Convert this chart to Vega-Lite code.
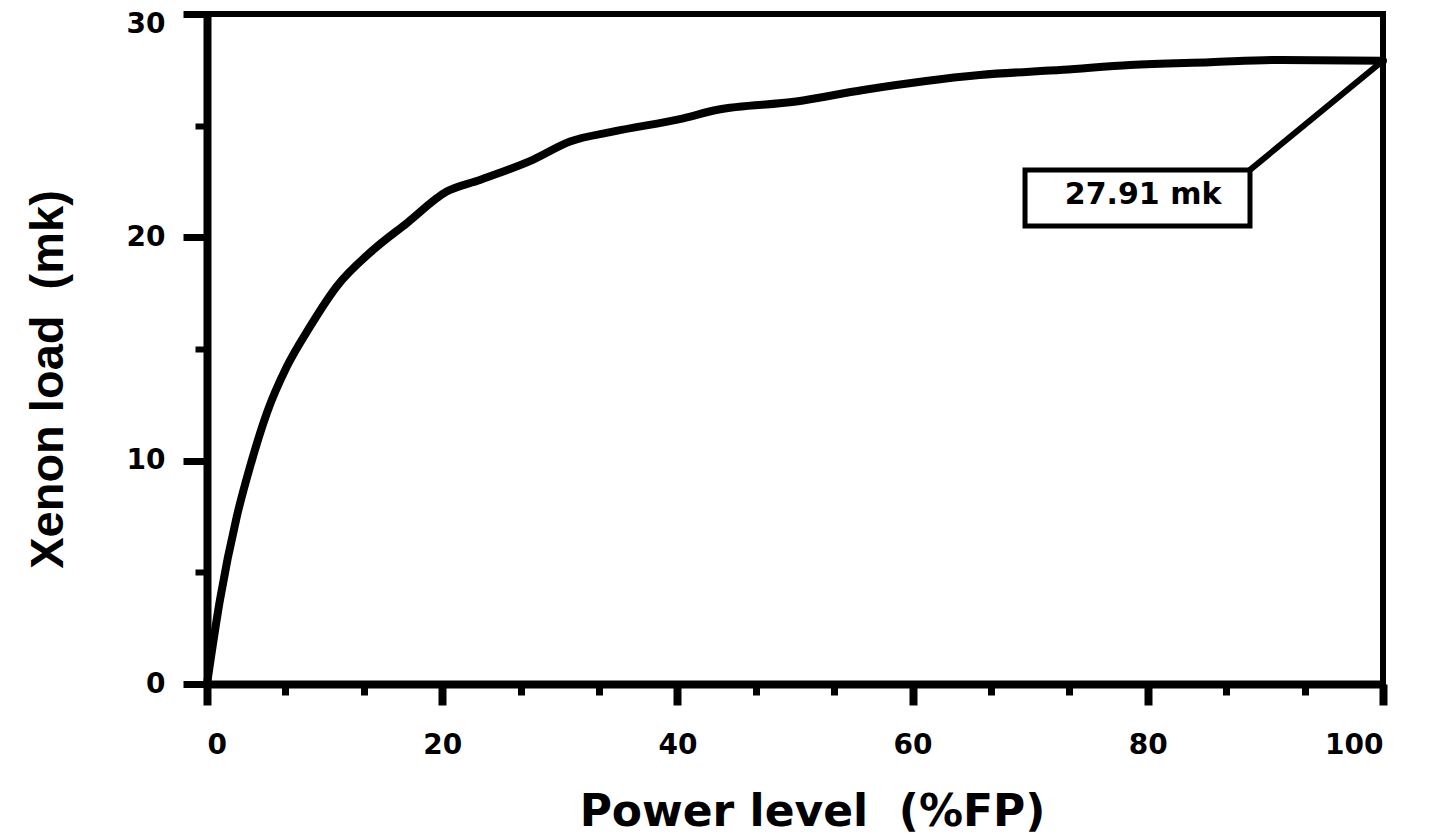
{
  "$schema": "https://vega.github.io/schema/vega-lite/v6.json",
  "autosize": {"type": "none"},
  "padding": {"left": 207, "top": 14, "right": 52, "bottom": 154},
  "width": 1176,
  "height": 670,
  "background": "white",
  "config": {
    "view": {"stroke": "black", "strokeWidth": 6},
    "axis": {
      "grid": false,
      "domainColor": "black",
      "domainWidth": 8,
      "tickColor": "black",
      "labelColor": "black",
      "labelFont": "DejaVu Sans",
      "labelFontWeight": "bold",
      "labelFontSize": 28,
      "labelOverlap": false,
      "titleColor": "black"
    }
  },
  "datasets": {
    "curve": [
      {"power": 0, "xenon": 0},
      {"power": 1.1, "xenon": 3.76},
      {"power": 2.53, "xenon": 7.49},
      {"power": 3.66, "xenon": 9.73},
      {"power": 5.08, "xenon": 12.12},
      {"power": 6.78, "xenon": 14.2},
      {"power": 8.76, "xenon": 16.0},
      {"power": 11.03, "xenon": 17.8},
      {"power": 14.14, "xenon": 19.44},
      {"power": 16.98, "xenon": 20.63},
      {"power": 20.38, "xenon": 22.05},
      {"power": 23.2, "xenon": 22.57},
      {"power": 27.7, "xenon": 23.47},
      {"power": 30.87, "xenon": 24.29},
      {"power": 34.5, "xenon": 24.73},
      {"power": 40.5, "xenon": 25.33},
      {"power": 43.3, "xenon": 25.7},
      {"power": 50.1, "xenon": 26.08},
      {"power": 55.8, "xenon": 26.6},
      {"power": 65.7, "xenon": 27.27},
      {"power": 72.8, "xenon": 27.5},
      {"power": 78.5, "xenon": 27.72},
      {"power": 85.3, "xenon": 27.84},
      {"power": 91.2, "xenon": 27.94},
      {"power": 100, "xenon": 27.91}
    ],
    "label": [
      {"x1": 69.56, "x2": 88.69, "y1": 20.51, "y2": 23.02, "tx": 79.6, "ty": 21.5, "text": "27.91 mk", "lx": 88.69, "ly": 23.02, "px": 100, "py": 27.91}
    ]
  },
  "layer": [
    {
      "data": {"name": "curve"},
      "mark": {"type": "line", "color": "black", "strokeWidth": 8, "interpolate": "monotone", "strokeCap": "round", "strokeJoin": "round"},
      "encoding": {
        "x": {
          "field": "power", "type": "quantitative",
          "scale": {"domain": [0, 100], "nice": false, "zero": false},
          "axis": {
            "values": [0, 6.6667, 13.3333, 20, 26.6667, 33.3333, 40, 46.6667, 53.3333, 60, 66.6667, 73.3333, 80, 86.6667, 93.3333, 100],
            "tickSize": {"condition": {"test": "abs(datum.value/20 - round(datum.value/20)) < 0.001", "value": 21}, "value": 11},
            "tickWidth": {"condition": {"test": "abs(datum.value/20 - round(datum.value/20)) < 0.001", "value": 8}, "value": 7},
            "labelExpr": "abs(datum.value/20 - round(datum.value/20)) < 0.001 ? format(datum.value, 'd') : ''",
            "labelPadding": 26,
            "title": "Power level\u00a0\u00a0(%FP)",
            "titleFont": "DejaVu Sans",
            "titleFontWeight": "bold",
            "titleFontSize": 44,
            "titleX": 605,
            "titleY": 141,
            "titleAlign": "center",
            "titleBaseline": "alphabetic"
          }
        },
        "y": {
          "field": "xenon", "type": "quantitative",
          "scale": {"domain": [0, 30], "nice": false, "zero": false},
          "axis": {
            "values": [0, 5, 10, 15, 20, 25, 30],
            "tickSize": {"condition": {"test": "datum.value % 10 === 0", "value": 24}, "value": 12},
            "tickWidth": {"condition": {"test": "datum.value % 10 === 0", "value": 7}, "value": 6},
            "labelExpr": "datum.value % 10 === 0 ? format(datum.value, 'd') : ''",
            "labelOffset": {"condition": {"test": "datum.value === 30", "value": 10}, "value": 0},
            "labelPadding": 18,
            "title": "Xenon load\u00a0\u00a0(mk)",
            "titleFont": "Liberation Sans",
            "titleFontWeight": "bold",
            "titleFontSize": 47,
            "titleAngle": 270,
            "titleX": -145,
            "titleY": 365,
            "titleAlign": "center",
            "titleBaseline": "alphabetic"
          }
        }
      }
    },
    {
      "data": {"name": "label"},
      "mark": {"type": "rule", "color": "black", "strokeWidth": 6, "strokeCap": "round"},
      "encoding": {
        "x": {"field": "lx", "type": "quantitative"},
        "y": {"field": "ly", "type": "quantitative"},
        "x2": {"field": "px"},
        "y2": {"field": "py"}
      }
    },
    {
      "data": {"name": "label"},
      "mark": {"type": "rect", "fill": "white", "stroke": "black", "strokeWidth": 5},
      "encoding": {
        "x": {"field": "x1", "type": "quantitative"},
        "x2": {"field": "x2"},
        "y": {"field": "y1", "type": "quantitative"},
        "y2": {"field": "y2"}
      }
    },
    {
      "data": {"name": "label"},
      "mark": {"type": "text", "font": "DejaVu Sans", "fontWeight": "bold", "fontSize": 30, "align": "center", "baseline": "alphabetic", "color": "black"},
      "encoding": {
        "x": {"field": "tx", "type": "quantitative"},
        "y": {"field": "ty", "type": "quantitative"},
        "text": {"field": "text"}
      }
    }
  ]
}
